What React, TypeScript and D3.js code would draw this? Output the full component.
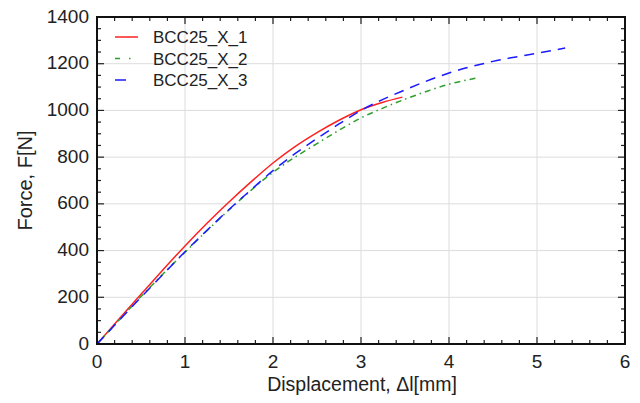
import React, { useEffect, useRef } from "react";
import * as d3 from "d3";

// Displacement (mm) / force (N)
const disp1 = [0, 0.25, 0.5, 0.75, 1, 1.25, 1.5, 1.75, 2, 2.25, 2.5, 2.75, 3, 3.25, 3.47];
const force1 = [0, 107, 213, 318, 420, 517, 608, 694, 775, 845, 905, 958, 1003, 1035, 1057];

const disp2 = [0, 0.25, 0.5, 0.75, 1, 1.25, 1.5, 1.75, 2, 2.25, 2.5, 2.75, 3, 3.25, 3.5, 3.75, 4, 4.32];
const force2 = [0, 102, 203, 300, 393, 485, 574, 658, 735, 800, 858, 915, 968, 1010, 1048, 1082, 1112, 1139];

const disp3 = [0, 0.25, 0.5, 0.75, 1, 1.25, 1.5, 1.75, 2, 2.25, 2.5, 2.75, 3, 3.5, 4, 4.5, 5, 5.32];
const force3 = [0, 100, 200, 298, 395, 487, 576, 660, 742, 815, 880, 942, 1000, 1088, 1160, 1210, 1245, 1267];

const seriesNames = ["BCC25_X_1", "BCC25_X_2", "BCC25_X_3"];
const seriesColors = ["#ff2020", "#2e9e2e", "#1a1aff"];
const seriesDash = ["", "6,4,1.5,4", "10,7"];

const xTicks = [0, 1, 2, 3, 4, 5, 6];
const yTicks = [0, 200, 400, 600, 800, 1000, 1200, 1400];

const App = () => {
  const svgRef = useRef(null);

  useEffect(() => {
    const width = 640;
    const height = 403;
    const left = 97;
    const right = 625;
    const top = 17;
    const bottom = 344;

    const x = d3.scaleLinear().domain([0, 6]).range([left, right]);
    const y = d3.scaleLinear().domain([0, 1400]).range([bottom, top]);

    const svg = d3
      .select(svgRef.current)
      .attr("width", width)
      .attr("height", height)
      .style("display", "block")
      .style("font-family", "'Liberation Sans', Arial, sans-serif");

    svg.selectAll("*").remove();

    // grid
    const grid = svg.append("g").attr("stroke", "#dcdcdc").attr("stroke-width", 1);
    xTicks.slice(1, -1).forEach((t) => {
      grid.append("line").attr("x1", x(t)).attr("x2", x(t)).attr("y1", top).attr("y2", bottom);
    });
    yTicks.slice(1, -1).forEach((t) => {
      grid.append("line").attr("x1", left).attr("x2", right).attr("y1", y(t)).attr("y2", y(t));
    });

    // inward ticks on all four sides
    const ticks = svg.append("g").attr("stroke", "#222").attr("stroke-width", 1.2);
    d3.range(0, 6.001, 0.2).forEach((t, i) => {
      const len = i % 5 === 0 ? 7 : 4;
      ticks.append("line").attr("x1", x(t)).attr("x2", x(t)).attr("y1", bottom).attr("y2", bottom - len);
      ticks.append("line").attr("x1", x(t)).attr("x2", x(t)).attr("y1", top).attr("y2", top + len);
    });
    d3.range(0, 1400.1, 50).forEach((t, i) => {
      const len = i % 4 === 0 ? 7 : 4;
      ticks.append("line").attr("x1", left).attr("x2", left + len).attr("y1", y(t)).attr("y2", y(t));
      ticks.append("line").attr("x1", right).attr("x2", right - len).attr("y1", y(t)).attr("y2", y(t));
    });

    // curves
    const line = d3
      .line<[number, number]>()
      .x((d) => x(d[0]))
      .y((d) => y(d[1]))
      .curve(d3.curveMonotoneX);

    const all = [
      d3.zip(disp1, force1),
      d3.zip(disp2, force2),
      d3.zip(disp3, force3),
    ];
    const plot = svg.append("g");
    [0, 1, 2].forEach((i) => {
      plot
        .append("path")
        .datum(all[i])
        .attr("fill", "none")
        .attr("stroke", seriesColors[i])
        .attr("stroke-width", 1.5)
        .attr("stroke-dasharray", seriesDash[i] || null)
        .attr("d", line);
    });

    // frame
    svg
      .append("rect")
      .attr("x", left)
      .attr("y", top)
      .attr("width", right - left)
      .attr("height", bottom - top)
      .attr("fill", "none")
      .attr("stroke", "#111")
      .attr("stroke-width", 2);

    // tick labels
    xTicks.forEach((t) => {
      svg
        .append("text")
        .attr("x", x(t))
        .attr("y", 368)
        .attr("text-anchor", "middle")
        .attr("font-size", 19)
        .attr("fill", "#222")
        .text(t);
    });
    yTicks.forEach((t) => {
      svg
        .append("text")
        .attr("x", left - 8)
        .attr("y", y(t) + 5.5)
        .attr("text-anchor", "end")
        .attr("font-size", 19)
        .attr("fill", "#222")
        .text(t);
    });

    // axis titles
    svg
      .append("text")
      .attr("x", 362)
      .attr("y", 391)
      .attr("text-anchor", "middle")
      .attr("font-size", 19.5)
      .attr("fill", "#222")
      .text("Displacement, Δl[mm]");
    svg
      .append("text")
      .attr("transform", `translate(32,${(top + bottom) / 2}) rotate(-90)`)
      .attr("text-anchor", "middle")
      .attr("font-size", 20)
      .attr("fill", "#222")
      .text("Force, F[N]");

    // legend
    const legend = svg.append("g");
    seriesNames.forEach((name, i) => {
      const ly = 37 + i * 21.5;
      legend
        .append("line")
        .attr("x1", 115)
        .attr("x2", 138)
        .attr("y1", ly)
        .attr("y2", ly)
        .attr("stroke", seriesColors[i])
        .attr("stroke-width", 1.5)
        .attr("stroke-dasharray", i === 1 ? "5,9,1.5,20" : i === 2 ? "11,20" : null);
      legend
        .append("text")
        .attr("x", 153)
        .attr("y", ly + 6)
        .attr("font-size", 17)
        .attr("fill", "#222")
        .text(name);
    });
  }, []);

  return (
    <div style={{ margin: -8 }}>
      <svg ref={svgRef}></svg>
    </div>
  );
};

export default App;
